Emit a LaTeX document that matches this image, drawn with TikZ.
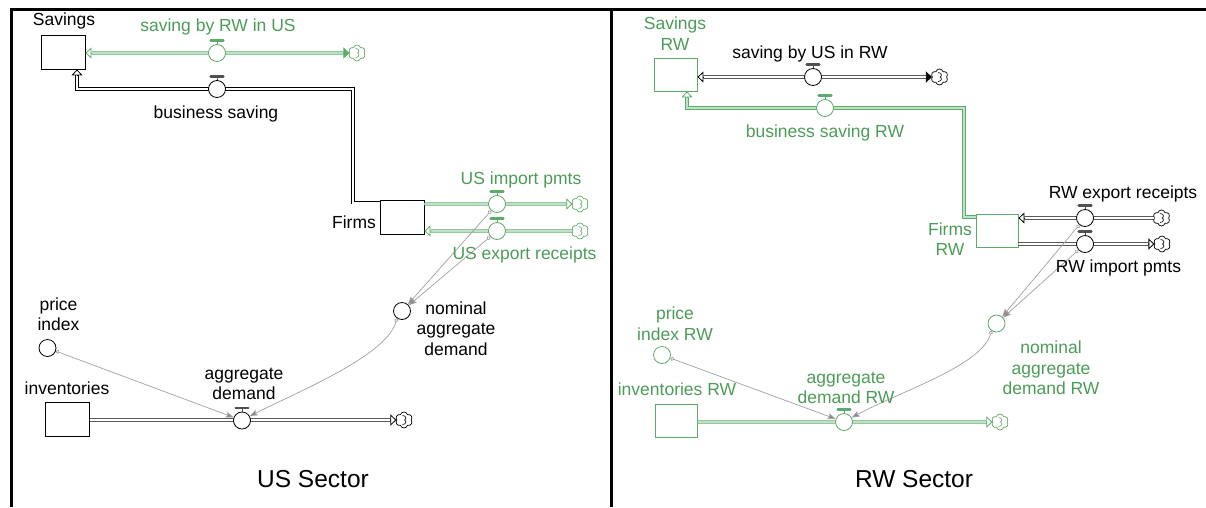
\documentclass[tikz,border=0pt]{standalone}
\usepackage{fontspec}
\setmainfont{Liberation Sans}
\usetikzlibrary{arrows.meta,calc,shapes.symbols}

\definecolor{gtext}{HTML}{4C9C58}
\definecolor{gline}{HTML}{5DAA6A}
\definecolor{gfill}{HTML}{BFE1C5}
\definecolor{cgrey}{HTML}{A0A0A0}
\definecolor{hgrey}{HTML}{505050}

\tikzset{
  lbl/.style={font=\fontsize{17.5}{20.5}\selectfont, inner sep=0pt, align=center, text=black},
  glbl/.style={lbl, text=gtext},
  title/.style={font=\fontsize{24.5}{28}\selectfont, inner sep=0pt},
  stockbox/.style={draw=black, line width=0.8pt, fill=white, minimum width=44pt, minimum height=34pt, inner sep=0pt},
  gstockbox/.style={stockbox, draw=gline},
  valvenode/.style={circle, draw=black, fill=white, line width=0.8pt, minimum size=17pt, inner sep=0pt},
  gvalvenode/.style={valvenode, draw=gline},
  auxnode/.style={circle, draw=black, fill=white, line width=0.8pt, minimum size=17pt, inner sep=0pt},
  gauxnode/.style={auxnode, draw=gline},
  sink/.style={cloud, cloud puffs=6, cloud puff arc=150, aspect=1.1, draw=black, fill=white, line width=0.7pt, minimum width=17pt, minimum height=16pt, inner sep=0pt},
  gsink/.style={sink, draw=gline},
  bpipe/.style={draw=black, line width=0.8pt, double=white, double distance=1.8pt},
  gpipe/.style={draw=gline, line width=0.8pt, double=gfill, double distance=1.8pt},
  intip/.style={line width=0.8pt, arrows={-Triangle[length=6pt,width=11pt,fill=white]}},
  solidtip/.style={line width=0.8pt, arrows={-Triangle[length=6pt,width=11pt]}},
  conn/.style={draw=cgrey, line width=0.7pt,
    arrows={Circle[length=4pt,width=4pt,fill=white]-Stealth[length=8pt,width=6pt,inset=1.5pt,fill=cgrey!85!black]}},
  frame/.style={line width=3pt, draw=black},
}

% T-shaped handle on top of a flow valve
\newcommand\valvehandle[2]{%
  \draw[#2, line width=1pt] (#1.north) -- ++(0,-3.8);
  \draw[#2, line width=2.6pt, line cap=round] ($(#1.north)+(-6.3,-3.8)$) -- ($(#1.north)+(6.3,-3.8)$);}

% inner curl of a source/sink cloud
\newcommand\cloudcurl[2]{%
  \draw[#2, line width=0.6pt] ($(#1.center)+(-1.5,-4.5)$) .. controls +(3.5,0) and +(2.5,-1) .. ($(#1.center)+(0.5,0)$)
     .. controls +(2.5,1) and +(3.5,0) .. ($(#1.center)+(-1.5,4.5)$);}

\begin{document}
\begin{tikzpicture}[x=1pt,y=-1pt]
\useasboundingbox (0,0) rectangle (1206,507);

% ---------- panel frame ----------
\draw[frame] (9.5,9) -- (1206,9);
\draw[frame] (11,7.5) -- (11,507);
\draw[frame] (611,7.5) -- (611,507);

% ================= US sector =================
\node[stockbox] (sav) at (63,52) {};
\node[stockbox] (firms) at (402,217) {};
\node[stockbox] (inv) at (67.5,419.5) {};

\node[gsink] (cl_sbrw) at (357,53) {};
\node[gsink] (cl_imp) at (580,204) {};
\node[gsink] (cl_exp) at (580,231) {};
\node[sink] (cl_ad) at (404,420) {};

\coordinate (bsbend) at (353,89);
\coordinate (vbs_c) at (217,89);

% flows
\draw[gpipe] ($(sav.east |- cl_sbrw)+(6,0)$) -- ($(cl_sbrw.west)+(-6,0)$);
\draw[bpipe] ($(firms.north west)+(0,3)$) -| (bsbend) -- (vbs_c) -| ($(sav.south)+(14,6)$);
\draw[gpipe] (firms.east |- cl_imp) -- ($(cl_imp.west)+(-6,0)$);
\draw[gpipe] (cl_exp.west) -- ($(firms.east |- cl_exp)+(6,0)$);
\draw[bpipe] (inv.east |- cl_ad) -- ($(cl_ad.west)+(-6,0)$);

\draw[gline, intip] ($(sav.east |- cl_sbrw)+(6,0)$) -- (sav.east |- cl_sbrw);
\draw[gline, solidtip] ($(cl_sbrw.west)+(-6,0)$) -- (cl_sbrw.west);
\draw[black, intip] ($(sav.south)+(14,6)$) -- ($(sav.south)+(14,0)$);
\draw[gline, intip] ($(cl_imp.west)+(-6,0)$) -- (cl_imp.west);
\draw[gline, intip] ($(firms.east |- cl_exp)+(6,0)$) -- (firms.east |- cl_exp);
\draw[black, intip] ($(cl_ad.west)+(-6,0)$) -- (cl_ad.west);

\cloudcurl{cl_sbrw}{gline}
\cloudcurl{cl_imp}{gline}
\cloudcurl{cl_exp}{gline}
\cloudcurl{cl_ad}{black}

% valves
\node[gvalvenode] (v_sbrw) at (217,53) {};
\node[valvenode] (v_bs) at (vbs_c) {};
\node[gvalvenode] (v_imp) at (497,204) {};
\node[gvalvenode] (v_exp) at (497,231) {};
\node[valvenode] (v_ad) at (242,420.5) {};
\valvehandle{v_sbrw}{gline}
\valvehandle{v_bs}{hgrey}
\valvehandle{v_imp}{gline}
\valvehandle{v_exp}{gline}
\valvehandle{v_ad}{hgrey}

% auxiliaries
\node[auxnode] (nad) at (402,311) {};
\node[auxnode] (pi) at (47.5,348) {};

% information links
\draw[conn] (v_imp) -- (nad);
\draw[conn] (v_exp) -- (nad);
\draw[conn] (pi) -- (v_ad);
\draw[conn] (nad.235) .. controls +(-10,37) and +(50,-25) .. (v_ad.30);

% labels
\node[lbl] (l_sav) at (64,21) {Savings};
\node[glbl] (l_sbrw) at (218,27) {saving by RW in US};
\node[lbl] (l_bs) at (216,114) {business saving};
\node[lbl] (l_firms) at (354,222) {Firms};
\node[glbl] (l_imp) at (521,180) {US import pmts};
\node[glbl] (l_exp) at (524.5,255) {US export receipts};
\node[lbl] (l_pi) at (58.5,314) {price\\index};
\node[lbl] (l_inv) at (67,388) {inventories};
\node[lbl] (l_ad) at (244,384) {aggregate\\demand};
\node[lbl] (l_nad) at (456,328.5) {nominal\\aggregate\\demand};
\node[title] (l_us) at (313,479) {US Sector};

% ================= RW sector =================
\node[gstockbox, minimum width=43pt, minimum height=33pt] (savrw) at (675.5,74.5) {};
\node[gstockbox, minimum width=42pt, minimum height=33pt] (firmsrw) at (997,230.5) {};
\node[gstockbox, minimum width=42pt, minimum height=33pt] (invrw) at (676.5,420.5) {};

\node[sink] (cl_sbus) at (939.5,77) {};
\node[sink] (cl_rwexp) at (1161.5,218) {};
\node[sink] (cl_rwimp) at (1162,244) {};
\node[gsink] (cl_adrw) at (1000,422) {};

\coordinate (bsrwbend) at (964,108);
\coordinate (vbsrw_c) at (825,108);

% flows
\draw[bpipe] ($(savrw.east |- cl_sbus)+(6,0)$) -- ($(cl_sbus.west)+(-6,0)$);
\draw[gpipe] ($(firmsrw.north west)+(0,3.5)$) -| (bsrwbend) -- (vbsrw_c) -| ($(savrw.south)+(11.5,6)$);
\draw[bpipe] (cl_rwexp.west) -- ($(firmsrw.east |- cl_rwexp)+(6,0)$);
\draw[bpipe] (firmsrw.east |- cl_rwimp) -- ($(cl_rwimp.west)+(-6,0)$);
\draw[gpipe] (invrw.east |- cl_adrw) -- ($(cl_adrw.west)+(-6,0)$);

\draw[black, intip] ($(savrw.east |- cl_sbus)+(6,0)$) -- (savrw.east |- cl_sbus);
\draw[black, solidtip] ($(cl_sbus.west)+(-6,0)$) -- (cl_sbus.west);
\draw[gline, intip] ($(savrw.south)+(11.5,6)$) -- ($(savrw.south)+(11.5,0)$);
\draw[black, intip] ($(firmsrw.east |- cl_rwexp)+(6,0)$) -- (firmsrw.east |- cl_rwexp);
\draw[black, intip] ($(cl_rwimp.west)+(-6,0)$) -- (cl_rwimp.west);
\draw[gline, intip] ($(cl_adrw.west)+(-6,0)$) -- (cl_adrw.west);

\cloudcurl{cl_sbus}{black}
\cloudcurl{cl_rwexp}{black}
\cloudcurl{cl_rwimp}{black}
\cloudcurl{cl_adrw}{gline}

% valves
\node[valvenode] (v_sbus) at (813,77) {};
\node[gvalvenode] (v_bsrw) at (vbsrw_c) {};
\node[valvenode] (v_rwexp) at (1085,218) {};
\node[valvenode] (v_rwimp) at (1085,244) {};
\node[gvalvenode] (v_adrw) at (844,422) {};
\valvehandle{v_sbus}{hgrey}
\valvehandle{v_bsrw}{gline}
\valvehandle{v_rwexp}{hgrey}
\valvehandle{v_rwimp}{hgrey}
\valvehandle{v_adrw}{gline}

% auxiliaries
\node[gauxnode] (nadrw) at (996.5,323.5) {};
\node[gauxnode] (pirw) at (662,355) {};

% information links
\draw[conn] (v_rwexp) -- (nadrw);
\draw[conn] (v_rwimp) -- (nadrw);
\draw[conn] (pirw) -- (v_adrw);
\draw[conn] (nadrw.235) .. controls +(-10,35) and +(48,-26) .. (v_adrw.30);

% labels
\node[glbl] (l_savrw) at (675,33.5) {Savings\\RW};
\node[lbl] (l_sbus) at (810,54) {saving by US in RW};
\node[glbl] (l_bsrw) at (825,133) {business saving RW};
\node[glbl] (l_firmsrw) at (950,239) {Firms\\RW};
\node[lbl] (l_rwexp) at (1123,194) {RW export receipts};
\node[lbl] (l_rwimp) at (1118.5,268) {RW import pmts};
\node[glbl] (l_pirw) at (675,323.5) {price\\index RW};
\node[glbl] (l_invrw) at (677,389) {inventories RW};
\node[glbl] (l_adrw) at (846,388) {aggregate\\demand RW};
\node[glbl] (l_nadrw) at (1051,368) {nominal\\aggregate\\demand RW};
\node[title] (l_rw) at (914,479) {RW Sector};
\end{tikzpicture}
\end{document}
